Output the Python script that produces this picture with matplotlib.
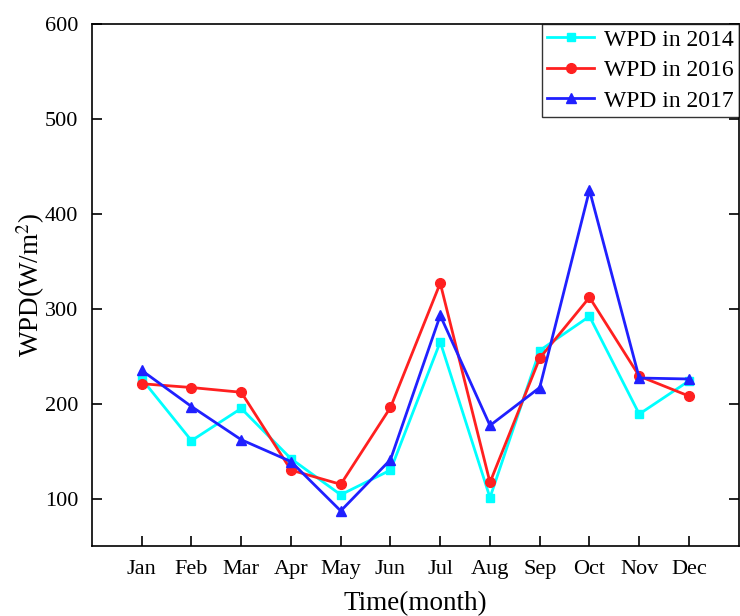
import matplotlib.pyplot as plt

plt.rcParams['font.family'] = ['Liberation Serif', 'DejaVu Serif']
plt.rcParams['mathtext.fontset'] = 'stix'

months = ['Jan', 'Feb', 'Mar', 'Apr', 'May', 'Jun',
          'Jul', 'Aug', 'Sep', 'Oct', 'Nov', 'Dec']
wpd_2014 = [226, 161, 195, 142, 104, 130, 265, 101, 256, 292, 189, 224]
wpd_2016 = [221, 217, 212, 130, 115, 196, 327, 117, 248, 312, 229, 208]
wpd_2017 = [235, 197, 162, 139, 87, 141, 293, 177, 217, 425, 227, 226]

x = list(range(1, len(months) + 1))

fig = plt.figure(figsize=(7.4, 6.16), dpi=100)
ax = fig.add_axes([0.1243, 0.1136, 0.874, 0.8474])

ax.plot(x, wpd_2014, color='cyan', lw=2, marker='s', ms=6, label='WPD in 2014')
ax.plot(x, wpd_2016, color='#ff2020', lw=2, marker='o', ms=7, label='WPD in 2016')
ax.plot(x, wpd_2017, color='#2020ff', lw=2, marker='^', ms=7, label='WPD in 2017')

ax.set_xlim(0, 13)
ax.set_ylim(50, 600)
ax.set_xticks(x)
ax.set_xticklabels(months)
ax.set_yticks([100, 200, 300, 400, 500, 600])
ax.tick_params(direction='in', length=7, width=1.2, labelsize=16, right=True, pad=10)
for s in ax.spines.values():
    s.set_linewidth(1.2)

ax.set_xlabel('Time(month)', fontsize=19.5, labelpad=9)
ax.set_ylabel('WPD(W/m$^2$)', fontsize=19.5, labelpad=-2)

leg = ax.legend(loc='upper right', fontsize=17, frameon=True, fancybox=False,
                edgecolor='black', borderaxespad=0, handlelength=2.0,
                borderpad=0.22, labelspacing=0.38, handletextpad=0.4)
leg.get_frame().set_linewidth(1.0)

fig.savefig('out.png', dpi=100)
